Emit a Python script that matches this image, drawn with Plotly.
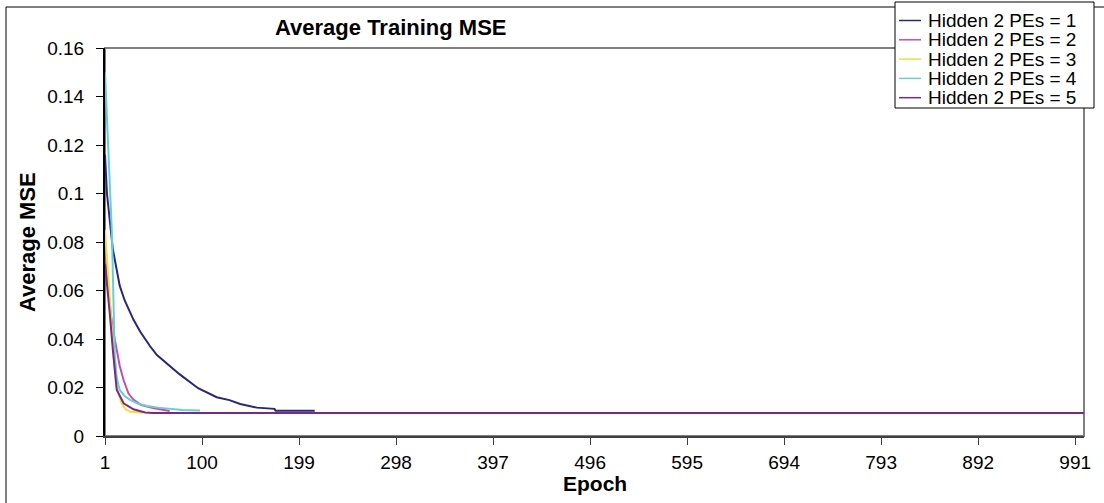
import plotly.graph_objects as go

# Series (epoch, average MSE)
names = ["Hidden 2 PEs = 1", "Hidden 2 PEs = 2", "Hidden 2 PEs = 3",
         "Hidden 2 PEs = 4", "Hidden 2 PEs = 5"]

ep_1 = [1, 3, 9, 16, 21, 30, 37, 47, 54, 64, 71, 77, 96, 115, 128, 139, 156, 174, 175, 215]
mse_1 = [0.116, 0.100, 0.077, 0.062, 0.056, 0.048, 0.043, 0.037, 0.0334, 0.030, 0.0275,
         0.0255, 0.0197, 0.016, 0.0148, 0.0132, 0.0117, 0.0112, 0.0104, 0.0104]

ep_2 = [1, 4, 7, 10, 13, 16, 20, 25, 30, 38, 50, 67]
mse_2 = [0.075, 0.062, 0.050, 0.042, 0.035, 0.029, 0.023, 0.0175, 0.015, 0.0128, 0.0115, 0.0103]

ep_3 = [1, 4, 7, 9, 11, 13, 18, 22, 27, 40]
mse_3 = [0.085, 0.067, 0.049, 0.036, 0.027, 0.020, 0.0135, 0.011, 0.010, 0.0096]

ep_4 = [1, 4, 8, 10, 11, 13, 16, 21, 27, 35, 44, 55, 64, 80, 98]
mse_4 = [0.150, 0.122, 0.084, 0.050, 0.033, 0.024, 0.019, 0.0165, 0.0148, 0.0133,
         0.0124, 0.0117, 0.0113, 0.0107, 0.0105]

ep_5 = [1, 4, 6, 9, 13, 20, 30, 42, 50, 1000]
mse_5 = [0.071, 0.059, 0.050, 0.0355, 0.019, 0.0135, 0.011, 0.0097, 0.0095, 0.0095]

x_ticks = [1, 100, 199, 298, 397, 496, 595, 694, 793, 892, 991]

colors = ["#26287A", "#C54FA8", "#EDE13A", "#66CEDC", "#7A2A82"]
FONT = "Liberation Sans, Arial, sans-serif"

W, H = 1104, 503
L, R, T, B = 105, 20, 48, 67          # plot area margins in px


def px(x):      # page pixel -> paper x
    return (x - L) / (W - L - R)


def py(y):      # page pixel -> paper y
    return (H - B - y) / (H - T - B)


fig = go.Figure()
for name, xs, ys, c in zip(names, [ep_1, ep_2, ep_3, ep_4, ep_5],
                           [mse_1, mse_2, mse_3, mse_4, mse_5], colors):
    fig.add_trace(go.Scatter(x=xs, y=ys, mode="lines", name=name,
                             line=dict(color=c, width=2)))

fig.update_layout(
    width=W, height=H,
    margin=dict(l=L, r=R, t=T, b=B, autoexpand=False),
    paper_bgcolor="white", plot_bgcolor="white",
    font=dict(family=FONT, size=19, color="black"),
    showlegend=False,
)
fig.update_xaxes(
    range=[1, 1000], tickmode="array", tickvals=x_ticks,
    showgrid=False, zeroline=False,
    showline=True, linecolor="#404040", linewidth=2,
    ticks="outside", ticklen=7, tickcolor="#404040", tickwidth=1,
    ticklabelstandoff=1, tickfont=dict(size=19),
)
fig.update_yaxes(
    range=[0, 0.16], dtick=0.02, tick0=0,
    showgrid=False, zeroline=False,
    showline=True, linecolor="black", linewidth=2,
    ticks="outside", ticklen=7, tickcolor="black", tickwidth=1,
    ticklabelstandoff=8, tickfont=dict(size=19),
)

# plot area frame (gray top/right) and outer chart border
fig.add_shape(type="rect", xref="paper", yref="paper", x0=0, x1=1, y0=0, y1=1,
              line=dict(color="#808080", width=2), layer="below")
fig.add_shape(type="line", xref="paper", yref="paper", x0=px(6), x1=px(1104),
              y0=py(7), y1=py(7), line=dict(color="black", width=1))
fig.add_shape(type="line", xref="paper", yref="paper", x0=px(6), x1=px(6),
              y0=py(7), y1=py(503), line=dict(color="black", width=1))

# legend box drawn by hand to match the tight row spacing of the original
fig.add_shape(type="rect", xref="paper", yref="paper", x0=px(895), x1=px(1094),
              y0=py(108), y1=py(2), line=dict(color="black", width=1),
              fillcolor="white")
for i, (name, c) in enumerate(zip(names, colors)):
    yc = 20.5 + i * 19.3
    fig.add_shape(type="line", xref="paper", yref="paper", x0=px(899), x1=px(921),
                  y0=py(yc), y1=py(yc), line=dict(color=c, width=1.5))
    fig.add_annotation(text=name, xref="paper", yref="paper", x=px(926), y=py(yc),
                       xanchor="left", yanchor="middle", showarrow=False,
                       font=dict(size=19))

fig.add_annotation(text="<b>Average Training MSE</b>", xref="paper", yref="paper",
                   x=px(390), y=py(28), xanchor="center", yanchor="middle",
                   showarrow=False, font=dict(size=22))
fig.add_annotation(text="<b>Average MSE</b>", xref="paper", yref="paper",
                   x=px(27), y=0.5, xanchor="center", yanchor="middle",
                   textangle=-90, showarrow=False, font=dict(size=22))
fig.add_annotation(text="<b>Epoch</b>", xref="paper", yref="paper",
                   x=0.5, y=py(483), xanchor="center", yanchor="middle",
                   showarrow=False, font=dict(size=21))

# the page body has an 8px default margin; drop it so the chart sits at 0,0
fig.write_html("out.html", config={"displayModeBar": False},
               post_script="document.body.style.margin='0';")
